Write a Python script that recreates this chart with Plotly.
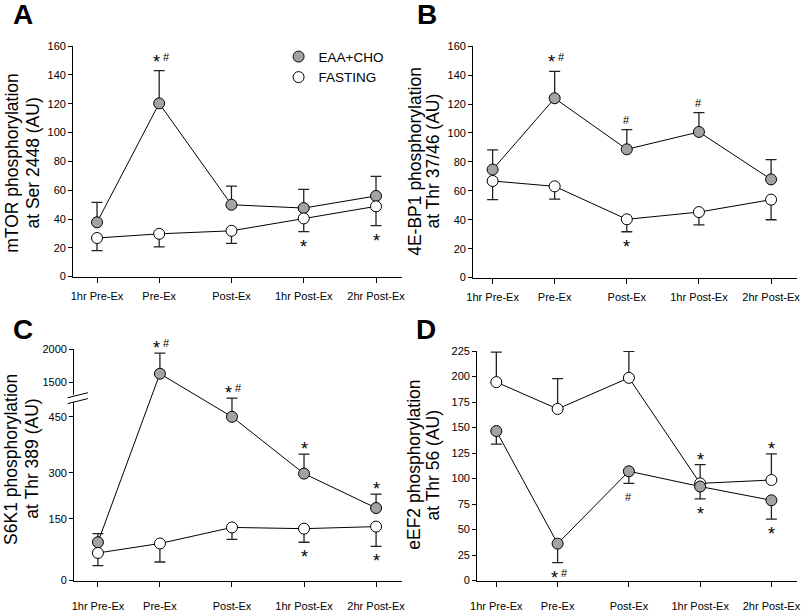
import numpy as np
import plotly.graph_objects as go

# ---------------- data ----------------
categories = ["1hr Pre-Ex", "Pre-Ex", "Post-Ex", "1hr Post-Ex", "2hr Post-Ex"]
x_pos = [0, 0.86, 1.86, 2.86, 3.86]

# Panel A - mTOR Ser 2448
mtor_eaa = [37.7, 120.3, 49.9, 47.6, 56.0]
mtor_eaa_up = [13.8, 22.7, 12.9, 13.0, 13.6]
mtor_fast = [26.8, 29.7, 31.8, 40.4, 48.8]
mtor_fast_dn = [8.8, 9.1, 8.7, 9.1, 13.4]

# Panel B - 4E-BP1 Thr 37/46
bp1_eaa = [74.7, 124.0, 88.7, 100.7, 67.9]
bp1_eaa_up = [13.6, 18.6, 13.6, 13.3, 13.6]
bp1_fast = [66.8, 63.1, 40.3, 45.3, 53.9]
bp1_fast_dn = [12.9, 8.8, 8.6, 8.8, 13.9]

# Panel C - S6K1 Thr 389 (broken axis)
s6k1_eaa = [93, 1632, 450, 297, 185]
s6k1_eaa_up = [21, 309, 50, 53, 45]
s6k1_fast = [67, 90, 129, 126, 131]
s6k1_fast_dn = [31, 45, 29, 33, 48]

# Panel D - eEF2 Thr 56
eef2_fast = [194.6, 168.3, 198.8, 95.3, 98.6]
eef2_fast_up = [29.4, 29.8, 25.9, 18.3, 25.6]
eef2_eaa = [146.6, 36.2, 107.2, 92.2, 78.7]
eef2_eaa_dn = [12.8, 18.6, 11.9, 12.2, 18.5]

zeros = [0, 0, 0, 0, 0]

# significance marks: (category index, series, side, text)
sig_A = [(1, "eaa", "up", "*#"), (3, "fast", "dn", "*"), (4, "fast", "dn", "*")]
sig_B = [(1, "eaa", "up", "*#"), (2, "eaa", "up", "#"), (3, "eaa", "up", "#"),
         (2, "fast", "dn", "*")]
sig_C = [(1, "eaa", "up", "*#"), (2, "eaa", "up", "*#"), (3, "eaa", "up", "*"),
         (4, "eaa", "up", "*"), (3, "fast", "dn", "*"), (4, "fast", "dn", "*")]
sig_D = [(1, "eaa", "dn", "*#"), (2, "eaa", "dn", "#"), (3, "fast", "up", "*"),
         (3, "eaa", "dn", "*"), (4, "fast", "up", "*"), (4, "eaa", "dn", "*")]

# broken-axis scale for panel C (value -> display units)
c_knots_val = [0, 150, 300, 450, 500, 1265, 1500, 2000]
c_knots_disp = [0, 63, 110, 167, 186, 186, 202, 236]
c_ticks = [0, 150, 300, 450, 1500, 2000]


def c_scale(v):
    return np.interp(np.asarray(v, dtype=float), c_knots_val, c_knots_disp)


FONT = "Liberation Sans, Arial, sans-serif"
GRAY = "#a3a3a3"

W, H = 805, 614


def px_x(p):
    return p / W


def px_y(p):
    return 1 - p / H


panels = {
    "A": dict(xa="x", ya="y", dom_x=[67, 400], dom_y=[41, 276], xr=[-0.33, 4.22],
              yr=[0, 160], dtick=20, standoff=4),
    "B": dict(xa="x2", ya="y2", dom_x=[472, 800], dom_y=[41, 277], xr=[-0.27, 4.22],
              yr=[0, 160], dtick=20, standoff=4),
    "C": dict(xa="x3", ya="y3", dom_x=[68, 400], dom_y=[350, 586], xr=[-0.33, 4.22],
              yr=[0, 236], dtick=None, standoff=10),
    "D": dict(xa="x4", ya="y4", dom_x=[476, 800], dom_y=[352, 586], xr=[-0.27, 4.22],
              yr=[0, 225], dtick=25, standoff=10),
}

# extra spacing (px) for a few significance marks
extra_gap = {("A", 1): 4, ("B", 1): 4, ("D", 2): 4}

fig = go.Figure()


def add_series(panel, y, up, dn, fill, transform=None):
    p = panels[panel]
    yv = np.asarray(y, dtype=float)
    upv = np.asarray(up, dtype=float)
    dnv = np.asarray(dn, dtype=float)
    if transform is not None:
        yd = transform(yv)
        upd = transform(yv + upv) - yd
        dnd = yd - transform(yv - dnv)
    else:
        yd, upd, dnd = yv, upv, dnv
    fig.add_trace(go.Scatter(
        x=x_pos, y=yd, xaxis=p["xa"], yaxis=p["ya"], mode="lines+markers",
        line=dict(color="black", width=1),
        marker=dict(size=11, color=fill, line=dict(color="black", width=1)),
        error_y=dict(type="data", symmetric=False, array=upd, arrayminus=dnd,
                     color="#222222", thickness=1.3, width=5.5),
        showlegend=False, hoverinfo="skip", cliponaxis=False,
    ))
    return yd, upd, dnd


series_store = {}

series_store[("A", "eaa")] = add_series("A", mtor_eaa, mtor_eaa_up, zeros, GRAY)
series_store[("A", "fast")] = add_series("A", mtor_fast, zeros, mtor_fast_dn, "white")

series_store[("B", "eaa")] = add_series("B", bp1_eaa, bp1_eaa_up, zeros, GRAY)
series_store[("B", "fast")] = add_series("B", bp1_fast, zeros, bp1_fast_dn, "white")

series_store[("C", "eaa")] = add_series("C", s6k1_eaa, s6k1_eaa_up, zeros, GRAY, transform=c_scale)
series_store[("C", "fast")] = add_series("C", s6k1_fast, zeros, s6k1_fast_dn, "white", transform=c_scale)

series_store[("D", "fast")] = add_series("D", eef2_fast, eef2_fast_up, zeros, "white")
series_store[("D", "eaa")] = add_series("D", eef2_eaa, zeros, eef2_eaa_dn, GRAY)

# legend entries
for name, fill in [("EAA+CHO", GRAY), ("FASTING", "white")]:
    fig.add_trace(go.Scatter(
        x=[None], y=[None], xaxis="x", yaxis="y", mode="markers", name=name,
        marker=dict(size=11, color=fill, line=dict(color="black", width=1)),
        showlegend=True,
    ))

annotations = []

# significance annotations
for panel, sigs in [("A", sig_A), ("B", sig_B), ("C", sig_C), ("D", sig_D)]:
    p = panels[panel]
    for (i, s, side, txt) in sigs:
        yd, upd, dnd = series_store[(panel, s)]
        gap = 10 + extra_gap.get((panel, i), 0)
        if side == "up":
            yy = yd[i] + upd[i]
            sgn = 1
        else:
            yy = yd[i] - dnd[i]
            sgn = -1
        if txt == "*#":
            parts = [("*", -3), ("#", 7)]
        else:
            parts = [(txt, 0)]
        for t, dx in parts:
            if t == "*":
                size = 18
                shift = sgn * gap - 5
            else:
                size = 11
                shift = sgn * gap
            annotations.append(dict(
                x=x_pos[i], y=yy, xref=p["xa"], yref=p["ya"], text=t,
                showarrow=False, xanchor="center", yanchor="middle",
                xshift=dx, yshift=shift,
                font=dict(family=FONT, size=size, color="black"),
            ))

# panel letters (centre positions)
for letter, (lx, ly) in {"A": (16, 9), "B": (425, 9), "C": (16, 330), "D": (424, 330)}.items():
    annotations.append(dict(
        x=px_x(lx), y=px_y(ly), xref="paper", yref="paper", text="<b>%s</b>" % letter,
        showarrow=False, xanchor="center", yanchor="middle",
        font=dict(family=FONT, size=28, color="black"),
    ))

# y-axis titles (two lines each)
titles = [
    ("mTOR phosphorylation", 5, 160), ("at Ser 2448 (AU)", 26, 160),
    ("4E-BP1 phosphorylation", 413, 158), ("at Thr 37/46 (AU)", 431, 158),
    ("S6K1 phosphorylation", 4, 462), ("at Thr 389 (AU)", 25, 462),
    ("eEF2 phosphorylation", 412, 468), ("at Thr 56 (AU)", 431, 468),
]
for txt, tx, ty in titles:
    annotations.append(dict(
        x=px_x(tx), y=px_y(ty), xref="paper", yref="paper", text=txt,
        textangle=-90, showarrow=False, xanchor="center", yanchor="middle",
        font=dict(family=FONT, size=17.5, color="black"),
    ))

layout = dict(
    width=W, height=H, margin=dict(l=0, r=0, t=0, b=0),
    paper_bgcolor="white", plot_bgcolor="white",
    font=dict(family=FONT, color="black"),
    showlegend=True,
    legend=dict(x=px_x(275), y=px_y(36), xanchor="left", yanchor="top",
                bgcolor="rgba(0,0,0,0)", font=dict(family=FONT, size=13.5, color="black"),
                itemclick=False, tracegroupgap=0),
    annotations=annotations,
)

for key, p in panels.items():
    xname = "xaxis" if p["xa"] == "x" else "xaxis" + p["xa"][1:]
    yname = "yaxis" if p["ya"] == "y" else "yaxis" + p["ya"][1:]
    layout[xname] = dict(
        domain=[px_x(p["dom_x"][0]), px_x(p["dom_x"][1])], anchor=p["ya"],
        range=p["xr"], tickmode="array", tickvals=x_pos, ticktext=categories,
        showline=True, linecolor="black", linewidth=1, ticks="outside",
        ticklen=5, tickwidth=1, tickcolor="black", showgrid=False, zeroline=False,
        tickfont=dict(family=FONT, size=11, color="black"),
        ticklabelstandoff=p["standoff"],
    )
    yax = dict(
        domain=[px_y(p["dom_y"][1]), px_y(p["dom_y"][0])], anchor=p["xa"],
        range=p["yr"], showline=True, linecolor="black", linewidth=1,
        ticks="outside", ticklen=4, tickwidth=1, tickcolor="black",
        showgrid=False, zeroline=False,
        tickfont=dict(family=FONT, size=11, color="black"),
    )
    if key == "C":
        yax.update(tickmode="array", tickvals=list(c_scale(c_ticks)),
                   ticktext=[str(t) for t in c_ticks])
    else:
        yax.update(tickmode="linear", tick0=0, dtick=p["dtick"])
    layout[yname] = yax

fig.update_layout(**layout)

# broken-axis marks for panel C
brk = float(c_scale(500))
fig.add_shape(type="line", xref="x3 domain", yref="y3", x0=0, x1=0,
              y0=brk - 3.5, y1=brk + 3.5, line=dict(color="white", width=3))
for off in (-3, 3):
    fig.add_shape(type="line", xref="x3 domain", yref="y3",
                  x0=-0.02, x1=0.042, y0=brk + off - 2.6, y1=brk + off + 2.6,
                  line=dict(color="black", width=1))

fig.write_html(
    "out.html",
    config={"displayModeBar": False},
    post_script="document.body.style.margin='0px';document.body.style.overflow='hidden';",
)
